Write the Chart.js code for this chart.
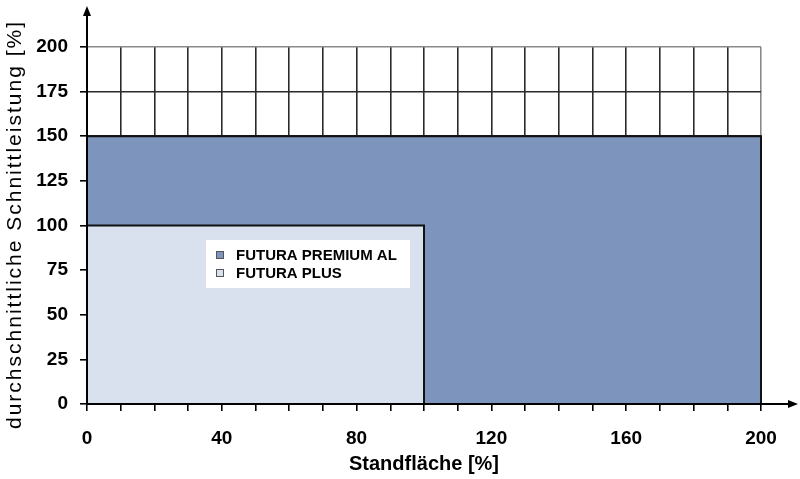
<!DOCTYPE html>
<html><head><meta charset="utf-8">
<script src="https://cdn.jsdelivr.net/npm/chart.js@4.4.1/dist/chart.umd.min.js"></script>
<style>html,body{margin:0;padding:0;background:#fff}#wrap{width:800px;height:479px;position:relative}</style>
</head><body><div id="wrap"><canvas id="c"></canvas></div>
<script>
const seriesNames = ['FUTURA PREMIUM AL', 'FUTURA PLUS'];
const standflaeche = [200, 100];      // x extent [%]
const schnittleistung = [150, 100];   // y extent [%]
const fillColors = ['#7d95bd', '#dae1ee'];
const xLabelTicks = [0, 40, 80, 120, 160, 200];
const yLabelTicks = [0, 25, 50, 75, 100, 125, 150, 175, 200];
const xTitle = 'Standfläche [%]';
const yTitle = 'durchschnittliche Schnittleistung [%]';

const FONT = "'Liberation Sans', Arial, sans-serif";

const datasets = seriesNames.map((name, i) => ({
  label: name,
  data: [
    {x: 0, y: 0}, {x: 0, y: schnittleistung[i]},
    {x: standflaeche[i], y: schnittleistung[i]}, {x: standflaeche[i], y: 0}
  ],
  showLine: true,
  fill: 'origin',
  backgroundColor: fillColors[i],
  borderColor: '#111',
  borderWidth: 2,
  pointRadius: 0,
  tension: 0,
  clip: 6,
  order: i === 0 ? 2 : 1
}));

const axesPlugin = {
  id: 'axesArrows',
  afterDraw(chart) {
    const ctx = chart.ctx, xs = chart.scales.x, ys = chart.scales.y;
    const x0 = xs.getPixelForValue(0), y0 = ys.getPixelForValue(0);
    ctx.save();
    ctx.strokeStyle = '#000'; ctx.fillStyle = '#000'; ctx.lineWidth = 2;
    ctx.beginPath(); ctx.moveTo(x0, y0 + 1); ctx.lineTo(x0, 14); ctx.stroke();
    ctx.beginPath(); ctx.moveTo(x0 - 1, y0); ctx.lineTo(790, y0); ctx.stroke();
    ctx.beginPath(); ctx.moveTo(x0, 6); ctx.lineTo(x0 - 4, 16); ctx.lineTo(x0 + 4, 16); ctx.closePath(); ctx.fill();
    ctx.beginPath(); ctx.moveTo(798, y0); ctx.lineTo(788, y0 - 4); ctx.lineTo(788, y0 + 4); ctx.closePath(); ctx.fill();
    // y axis title
    const cy = (ys.top + ys.bottom) / 2;
    ctx.translate(15, cy - 1);
    ctx.rotate(-Math.PI / 2);
    ctx.font = '21px ' + FONT;
    try { ctx.letterSpacing = '2px'; } catch (e) {}
    ctx.textAlign = 'center';
    ctx.textBaseline = 'middle';
    ctx.fillStyle = '#000';
    ctx.fillText(yTitle, 0, 0);
    ctx.restore();
  }
};

const legendPlugin = {
  id: 'innerLegend',
  afterDatasetsDraw(chart) {
    const ctx = chart.ctx;
    ctx.save();
    ctx.fillStyle = '#fff';
    ctx.fillRect(206, 240, 204, 48);
    ctx.font = 'bold 15px ' + FONT;
    ctx.textBaseline = 'middle';
    seriesNames.forEach((name, i) => {
      const cy = 255 + i * 18;
      ctx.fillStyle = fillColors[i];
      ctx.fillRect(216, cy - 4, 8, 8);
      ctx.strokeStyle = '#555'; ctx.lineWidth = 1;
      ctx.strokeRect(216.5, cy - 3.5, 7, 7);
      ctx.fillStyle = '#000';
      ctx.fillText(name, 236, cy + 0.5);
    });
    ctx.restore();
  }
};

new Chart(document.getElementById('c'), {
  type: 'scatter',
  data: { datasets },
  options: {
    responsive: true,
    maintainAspectRatio: false,
    animation: false,
    layout: { padding: { top: 47, right: 39, left: 0, bottom: 0 } },
    plugins: { legend: { display: false }, tooltip: { enabled: false } },
    scales: {
      x: {
        type: 'linear', min: 0, max: 200,
        afterBuildTicks(s) { s.ticks = []; for (let v = 0; v <= 200; v += 10) s.ticks.push({value: v}); },
        afterFit(s) { s.height = 75; },
        ticks: {
          autoSkip: false, maxRotation: 0, padding: 16, color: '#000',
          font: { family: FONT, size: 19, weight: 'bold' },
          callback: v => xLabelTicks.includes(v) ? String(v) : ''
        },
        grid: {
          color: ctx => (ctx.tick && ctx.tick.value === 200) ? '#8a8a8a' : '#2a2a2a',
          lineWidth: 1.6, tickLength: 7, tickColor: '#000', tickWidth: 1.6
        },
        border: { display: false },
        title: { display: true, text: xTitle, color: '#000', font: { family: FONT, size: 20, weight: 'bold' }, padding: { top: 0, bottom: 3 } }
      },
      y: {
        type: 'linear', min: 0, max: 200,
        afterBuildTicks(s) { s.ticks = yLabelTicks.map(v => ({value: v})); },
        afterFit(s) { s.width = 87; },
        ticks: {
          padding: 12, color: '#000',
          font: { family: FONT, size: 19, weight: 'bold' },
          callback: v => String(v)
        },
        grid: {
          color: ctx => (ctx.tick && ctx.tick.value === 200) ? '#8a8a8a' : '#2a2a2a',
          lineWidth: 1.6, tickLength: 7, tickColor: '#000', tickWidth: 1.6
        },
        border: { display: false },
        title: { display: false }
      }
    }
  },
  plugins: [legendPlugin, axesPlugin]
});
</script>
</body></html>
